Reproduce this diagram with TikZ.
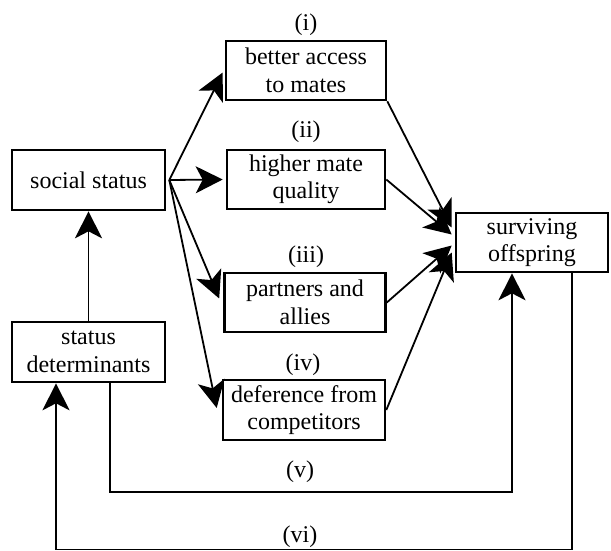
\documentclass[tikz,border=0pt]{standalone}
\usepackage{fontspec}
\setmainfont{Liberation Serif}
\usetikzlibrary{arrows.meta,calc}
\begin{document}
\begin{tikzpicture}[x=1pt,y=-1pt,
  box/.style={draw,line width=2.6pt,inner sep=0pt,align=center,font=\fontsize{24}{27.5}\selectfont},
  lbl/.style={inner sep=0pt,font=\fontsize{24}{27.5}\selectfont},
  con/.style={line width=1.8pt},
  arr/.style={con,-{Stealth[length=27pt,width=27pt,inset=7pt]}}]
\useasboundingbox (0,0) rectangle (611,551);
\node[box,minimum width=153pt,minimum height=60pt] (ss) at (88.5,180) {social status};
\node[box,minimum width=153pt,minimum height=60pt] (sd) at (88.5,352) {status\\determinants};
\node[box,minimum width=160pt,minimum height=59pt] (b1) at (306,70.5) {better access\\to mates};
\node[box,minimum width=158pt,minimum height=59pt] (b2) at (306,179.5) {higher mate\\quality};
\node[box,minimum width=161pt,minimum height=59pt] (b3) at (305,302.5) {partners and\\allies};
\node[box,minimum width=162pt,minimum height=60pt] (b4) at (304,410) {deference from\\competitors};
\node[box,minimum width=152pt,minimum height=59pt] (so) at (532,242.5) {surviving\\offspring};
\node[lbl] (l1) at (306,25) {(i)};
\node[lbl] (l2) at (306,132) {(ii)};
\node[lbl] (l3) at (306,257) {(iii)};
\node[lbl] (l4) at (303,365) {(iv)};
\node[lbl] (l5) at (300,472) {(v)};
\node[lbl] (l6) at (300,537) {(vi)};
% social status to benefits
\coordinate (s0) at ($(ss.east)+(3,0)$);
\draw[arr] (s0) -- ($(b1.west)+(-2,2)$);
\draw[arr] (s0) -- ($(b2.west)+(-3,0)$);
\draw[arr] (s0) -- ($(b3.west)+(-4,-4)$);
\draw[arr] (s0) -- ($(b4.west)+(-5,-2)$);
% determinants to status
\draw[arr] (sd.north) -- (ss.south);
% benefits to offspring
\draw[arr] (b1.south east) -- ($(so.west)+(-3,-15)$);
\draw[arr] (b2.east) -- ($(so.west)+(-3,-8)$);
\draw[arr] (b3.east) -- ($(so.west)+(-3,3)$);
\draw[arr] (b4.east) -- ($(so.west)+(-3,10)$);
% feedback loops
\coordinate (v1) at ($(sd.south)+(21.5,0)$);
\coordinate (v2) at ($(so.south)+(-20,0)$);
\draw[arr] (v1) -- (v1 |- 0,492) -- (v2 |- 0,492) -- (v2);
\coordinate (w1) at ($(so.south)+(40,0)$);
\coordinate (w2) at ($(sd.south)+(-32.5,0)$);
\draw[arr] (w1) -- (w1 |- 0,549.5) -- (w2 |- 0,549.5) -- (w2);
\end{tikzpicture}
\end{document}
